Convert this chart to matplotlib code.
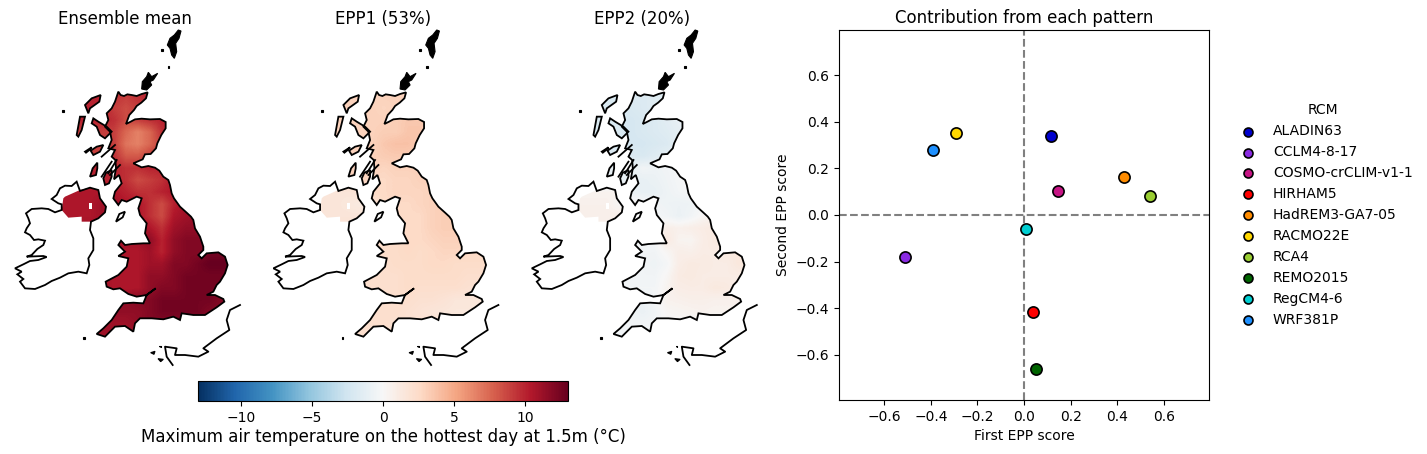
import matplotlib
matplotlib.use("Agg")
from matplotlib import pyplot as plt
from matplotlib.path import Path
from matplotlib.patches import PathPatch, Polygon
from matplotlib.colors import Normalize
from matplotlib.cm import ScalarMappable
import numpy as np

# coastlines in map units
great_britain = [(355,215),(362,225),(372,228),(382,223),(395,225),(410,228),(425,222),(443,217),(438,235),(424,248),
    (410,258),(402,270),(388,285),(378,312),(392,305),(405,298),(425,296),(450,298),(480,297),(497,306),(497,325),
    (484,345),(472,370),(468,385),(452,402),(435,403),(428,418),(400,430),(425,442),(445,438),(465,443),(478,452),
    (490,470),(505,480),(510,495),(515,520),(522,535),(540,560),(560,578),(573,590),(580,600),(585,625),(600,650),
    (610,680),(610,690),(595,705),(605,715),(620,700),(655,697),(675,710),(683,735),(675,760),(660,785),(650,795),
    (640,815),(620,825),(645,825),(670,837),(673,845),(650,862),(615,885),(580,885),(545,880),(540,900),(520,890),
    (490,898),(455,895),(420,895),(405,910),(400,935),(375,918),(345,920),(315,950),(290,942),(310,925),(335,900),
    (355,870),(370,850),(400,848),(430,850),(440,825),(467,805),(440,825),(410,830),(385,822),(360,805),(340,808),
    (320,800),(317,785),(355,765),(380,740),(385,715),(355,708),(375,695),(355,675),(363,662),(375,675),(395,672),
    (430,670),(450,670),(435,640),(440,610),(420,585),(415,565),(425,535),(410,530),(380,545),(365,540),(355,555),
    (340,535),(345,515),(365,490),(357,465),(342,478),(348,445),(346,420),(335,410),(345,390),(325,385),(335,360),
    (330,335),(315,320),(325,300),(320,280),(335,265),(345,245)]
ireland = [(230,485),(215,498),(195,497),(180,505),(170,525),(155,537),(175,550),(185,553),(185,570),(165,577),
    (145,567),(125,565),(95,567),(78,580),(85,595),(90,610),(80,625),(75,637),(90,645),(102,660),(115,658),(135,662),
    (130,675),(112,687),(95,705),(80,710),(130,708),(140,711),(115,720),(90,723),(70,733),(45,745),(65,755),(52,763),
    (70,777),(60,785),(75,805),(105,807),(135,795),(155,783),(180,773),(205,760),(235,755),(260,760),(268,735),
    (265,715),(280,690),(280,655),(270,630),(273,605),(295,595),(315,577),(318,560),(300,535),(295,510),(270,503),
    (240,513)]
kintyre = [(315,495),(310,475),(318,458),(335,450),(335,470),(327,490)]
jura = [(270,470),(278,445),(292,428),(292,445),(288,465)]
mull = [(290,380),(310,375),(300,395),(280,405),(272,392)]
tiree = [(255,395),(275,382),(268,390),(258,398)]
skye = [(280,295),(295,305),(320,320),(335,335),(315,355),(300,345),(290,320),(275,310)]
lewis = [(255,255),(275,235),(302,225),(298,245),(270,265),(265,280)]
uist = [(240,290),(255,290),(245,330),(235,350),(230,345)]
man = [(348,605),(358,582),(375,575),(368,592)]
orkney = [(445,157),(455,170),(473,160),(460,180),(450,185),(455,195),(440,210),(425,207),(427,185),(440,170)]
shetland = [(535,30),(543,33),(537,55),(527,70),(530,95),(523,115),(515,105),(510,85),(502,75),(510,55),(523,45)]
small_isles = [(187,270),(193,270),(193,276),(187,276)], [(483,88),(489,88),(489,93),(483,93)], \
    [(503,139),(508,139),(508,145),(503,145)], [(250,950),(255,950),(255,956),(250,956)], \
    [(452,998),(465,994),(462,1003)], [(474,1016),(490,1018),(482,1025)], [(477,977),(482,977),(482,981)]
sea_loch_a = [(345,375),(305,410)]
sea_loch_b = [(350,420),(325,460)]
sea_loch_c = [(360,435),(330,465)]
sea_loch_d = [(335,425),(305,470)]
france = [(720,855),(690,870),(680,900),(688,930),(650,955),(610,985),(625,995),(595,1010),(555,1005),(525,1005),
    (530,985),(495,980),(500,1010),(518,1035)]
# northern ireland is the only part of ireland with data
n_ireland = [(190,535),(195,530),(240,510),(270,503),(295,510),(300,535),(318,560),(315,577),(295,595),(273,605),
    (245,605),(245,590),(205,593),(185,570)]
lough_neagh = [(267,550),(276,550),(276,568),(267,568)]

grid_x = [198,234,270,306,342,378,414,450,486,522,558,594,630,666,702]
grid_y = [228,264,300,336,372,408,444,480,516,552,588,624,660,696,732,768,804,840,876,912,948]

ens_mean = [
    [10,10,10,10,9.5,9,9.5,10,10,10,10,10,10,10,10],
    [10,10,10,10,9,8.5,9,10,10,10,10,10,10,10,10],
    [10,10,10,10,9.5,8.5,9,9.5,10,10,10,10,10,10,10],
    [9,9,9,9,9,7.5,6.5,7.5,9.5,10,10,10,10,10,10],
    [9,9,9,9,9,7,6.5,7.5,9,10,10,10,10,10,10],
    [9,9,9,9,9.5,8,8,9,9.5,10,10,10,10,10,10],
    [10,10,10,10,10,9.5,9.5,10,10,10,10,10,10,10,10],
    [10,10,10,10,10,9.5,8.5,9,9.5,10.5,10.5,10.5,10.5,10.5,10.5],
    [10.5,10.5,10.5,10.5,10.5,10,9.5,9.5,10,10.5,10.5,10.5,10.5,10.5,10.5],
    [10.5,10.5,10.5,11,11,10.5,10.5,9.5,8.5,10,11,11,11,11,11],
    [10.5,10.5,10.5,11,11,11,10.5,9.5,8.5,10.5,11,11.5,11.5,11.5,11.5],
    [11,11,11,11,11,11,11,10.5,9.5,11,11.5,11.5,12,12,12],
    [11,11,11,11,11,11,11,11.5,10,11.5,12,12,12,12,12],
    [11,11,11,11,11,10.5,10.5,11,10,11.5,12,12,12.5,12.5,12.5],
    [11,11,11,11,11,10.5,10.5,11,11,12,12,12.5,13,13,13],
    [11,11,11,11,10.5,10.5,10.5,11.5,11.5,12,12.5,12.5,12.5,12.5,12.5],
    [11,11,11,11,10.5,10.5,10.5,11.5,12,12,12.5,12.5,12.5,12.5,12.5],
    [11,11,11,11,11.5,11.5,12,12,12.5,12.5,12.5,12.5,12.5,12,12],
    [11,11,11,11,11.5,11.5,11.5,12,12.5,12.5,12.5,12.5,12,12,12],
    [11,11,11,11,11,11,11.5,12,12,12,12,12,12,12,12],
    [11,11,11,11,11,11,11.5,12,12,12,12,12,12,12,12],
]
epp1 = [
    [3,3,3,3,2.8,3,3,3,3,3,3,3,3,3,3],
    [3,3,3,3,3,2.8,3,3,3,3,3,3,3,3,3],
    [3,3,3,3,3,3,3.2,3.5,3.5,3,3,3,3,3,3],
    [3,3,3,3,3,3.2,3.2,3.6,3.6,3,3,3,3,3,3],
    [3,3,3,3,3,3.5,3.8,3.8,3.3,3,3,3,3,3,3],
    [3,3,3,3,3,3.3,3.4,3.3,3,3,3,3,3,3,3],
    [3,3,3,3,3,2.8,3,3,3,3,3,3,3,3,3],
    [3,3,3,3,2.6,2.6,2.8,2.8,3,3,3,3,3,3,3],
    [1.6,1.6,1.6,1.8,2.6,2.6,2.8,2.8,2.8,3,3,3,3,3,3],
    [1.6,1.6,1.4,1.2,1.6,2.6,2.6,2.6,2.8,3,3.2,3,3,3,3],
    [1.6,1.6,1.6,1.6,1.6,2.6,2.6,2.6,2.6,3,3.2,3.2,3,3,3],
    [2,2,2,2,2,2.6,2.6,2.6,2.6,3,3.2,3.2,3,3,3],
    [2.4,2.4,2.4,2.4,2.4,2.4,2.4,2.6,2.6,2.8,3,3,3,3,3],
    [2.4,2.4,2.4,2.4,2.4,2.4,2.4,2.6,2.4,2.6,2.8,2.8,2.6,2.6,2.6],
    [2.4,2.4,2.4,2.4,2.4,2.2,2.4,2.4,2.4,2.6,2.6,2.4,2.4,2.4,2.4],
    [2.2,2.2,2.2,2.2,2.2,2.2,2.2,2.4,2.4,2.4,2.4,2.4,2.2,2.2,2.2],
    [2.2,2.2,2.2,2.2,2.2,2.2,2.2,2.4,2.2,2.2,2.2,2.2,2,2,2],
    [2.2,2.2,2.2,2.2,2.4,2.2,2.2,2.2,2,2,1.8,1.5,1.5,1.5,1.5],
    [2.2,2.2,2.2,2.2,2.2,2.2,2.2,2,1.8,1.6,1.5,1.4,1.4,1.4,1.4],
    [2.2,2.2,2.2,2.2,2.2,2.2,2,2,2,2,2,2,2,2,2],
    [2.2,2.2,2.2,2.2,2.2,2.2,2,2,2,2,2,2,2,2,2],
]
epp2 = [
    [-2,-2,-2,-2,-1.8,-1.8,-1.6,-1.6,-1.6,-1.6,-1.6,-1.6,-1.6,-1.6,-1.6],
    [-2,-2,-2,-2,-2,-1.8,-1.6,-1.6,-1.6,-1.6,-1.6,-1.6,-1.6,-1.6,-1.6],
    [-2,-2,-2,-2,-2.2,-2,-1.8,-1.4,-1,-1,-1,-1,-1,-1,-1],
    [-2,-2,-2,-2,-2.2,-2,-1.8,-1.6,-1.2,-1,-1,-1,-1,-1,-1],
    [-2,-2,-2,-2,-2.2,-2.2,-2,-1.8,-1.2,-1,-1,-1,-1,-1,-1],
    [-1.8,-1.8,-1.8,-1.8,-1.8,-2,-1.6,-1.2,-0.8,-0.8,-0.8,-0.8,-0.8,-0.8,-0.8],
    [-1,-1,-1,-1,-1,-0.4,-0.6,-0.4,-0.2,-0.2,-0.2,-0.2,-0.2,-0.2,-0.2],
    [-1,-1,-1,-1,-1,-1,-0.8,-0.5,-0.2,0.2,0.2,0.2,0.2,0.2,0.2],
    [0.4,0.4,0.4,0.5,-0.8,-1,-1,-0.6,-0.3,-0.1,0.1,0.1,0.1,0.1,0.1],
    [0.6,0.6,0.6,0.2,0.3,0,-0.4,-0.6,-0.7,-0.6,-0.2,-0.1,-0.1,-0.1,-0.1],
    [0.7,0.7,0.7,0.7,0.7,0,-0.2,-0.4,-0.8,-0.4,0.2,0.6,0.6,0.6,0.6],
    [0.6,0.6,0.6,0.6,0.6,0,0,0.8,0.6,0.8,1,1.2,1.2,1.2,1.2],
    [0,0,0,0,0,-0.2,-0.2,1.2,0.4,0.3,0.9,1.2,1.2,1.2,1.2],
    [-0.4,-0.4,-0.4,-0.4,-0.4,-0.4,-0.4,0.2,0.8,0.7,1,1,1.2,1.4,1.4],
    [-0.4,-0.4,-0.4,-0.4,-0.4,-0.4,-0.6,-0.2,0.9,1.2,1.1,1,1,1.4,1.4],
    [-0.4,-0.4,-0.4,-0.4,-0.4,-0.4,-0.4,0.2,1.1,1.2,1,1,1,1,1],
    [-0.4,-0.4,-0.4,-0.4,-0.3,-0.3,-0.3,0.4,0.9,1,1,1.3,1.2,0.8,0.8],
    [-0.6,-0.6,-0.6,-0.6,-0.6,-0.8,-0.2,0.5,0.6,0.7,0.7,0.6,0.6,0.6,0.6],
    [-0.6,-0.6,-0.6,-0.6,-0.5,-0.8,-0.4,0.2,0.3,0.4,0.5,0.4,0.4,0.4,0.4],
    [-0.4,-0.4,-0.4,-0.4,-0.4,-0.4,-0.3,0,0,0,0,0,0,0,0],
    [-0.4,-0.4,-0.4,-0.4,-0.4,-0.4,-0.3,0,0,0,0,0,0,0,0],
]

map_titles = ["Ensemble mean", "EPP1 (53%)", "EPP2 (20%)"]
map_fields = [ens_mean, epp1, epp2]

rcm_names = ["ALADIN63", "CCLM4-8-17", "COSMO-crCLIM-v1-1", "HIRHAM5", "HadREM3-GA7-05",
             "RACMO22E", "RCA4", "REMO2015", "RegCM4-6", "WRF381P"]
rcm_colors = ["mediumblue", "blueviolet", "mediumvioletred", "red", "darkorange",
              "gold", "yellowgreen", "darkgreen", "darkturquoise", "dodgerblue"]
epp1_score = [0.115, -0.51, 0.145, 0.04, 0.43, -0.29, 0.54, 0.05, 0.01, -0.39]
epp2_score = [0.34, -0.18, 0.103, -0.415, 0.163, 0.35, 0.08, -0.66, -0.06, 0.28]

W, H = 1427, 454
fig = plt.figure(figsize=(W / 100, H / 100), dpi=100)


def px_axes(x0, y0, x1, y1):
    # axes from pixel box, y measured from the top
    return fig.add_axes([x0 / W, 1 - y1 / H, (x1 - x0) / W, (y1 - y0) / H])


cmap = plt.get_cmap("RdBu_r")
norm = Normalize(-13, 13)
land = [great_britain, n_ireland, kintyre, jura, mull, skye, lewis, uist]
coast = [great_britain, ireland, kintyre, jura, mull, tiree, skye, lewis, uist, man]
solid = [orkney, shetland, *small_isles]
lochs = [sea_loch_a, sea_loch_b, sea_loch_c, sea_loch_d, france]

for k in range(3):
    shift = 258.4 * k
    ax = px_axes(shift, 20, 260 + shift, 370)
    ax.set_xlim(0, 780)
    ax.set_ylim(1050, 0)
    ax.axis("off")
    ax.set_title(map_titles[k], fontsize=12, x=0.481, y=0.99, pad=0)

    dx = grid_x[1] - grid_x[0]
    dy = grid_y[1] - grid_y[0]
    im = ax.imshow(np.array(map_fields[k]), cmap=cmap, norm=norm, interpolation="bilinear", aspect="auto",
                   extent=[grid_x[0] - dx / 2, grid_x[-1] + dx / 2, grid_y[-1] + dy / 2, grid_y[0] - dy / 2])
    ax.set_xlim(0, 780)
    ax.set_ylim(1050, 0)

    clip = Path.make_compound_path(*[Path(p + [p[0]]) for p in land])
    im.set_clip_path(PathPatch(clip, transform=ax.transData))
    ax.add_patch(Polygon(lough_neagh, closed=True, fc="white", ec="none", zorder=2))

    for p in coast:
        ax.add_patch(Polygon(p, closed=True, fill=False, ec="black", lw=1.3, zorder=3))
    for p in solid:
        ax.add_patch(Polygon(p, closed=True, fc="black", ec="black", lw=0.8, zorder=3))
    for p in lochs:
        ax.plot([c[0] for c in p], [c[1] for c in p], color="black", lw=1.3, zorder=3)

# colorbar
cax = px_axes(198, 381, 568, 401)
cb = fig.colorbar(ScalarMappable(norm=norm, cmap=cmap), cax=cax, orientation="horizontal")
cb.set_ticks([-10, -5, 0, 5, 10])
cb.set_label("Maximum air temperature on the hottest day at 1.5m (°C)", fontsize=12, labelpad=2)

# scatter panel
ax2 = px_axes(839, 30, 1209, 400)
ax2.axhline(0, color="grey", ls="--", lw=1.5, zorder=1)
ax2.axvline(0, color="grey", ls="--", lw=1.5, zorder=1)
for i in range(len(rcm_names)):
    ax2.scatter(epp1_score[i], epp2_score[i], s=65, color=rcm_colors[i], edgecolor="black",
                linewidth=1.2, label=rcm_names[i], zorder=3)
ax2.set_xlim(-0.794, 0.794)
ax2.set_ylim(-0.794, 0.794)
ax2.set_xticks([-0.6, -0.4, -0.2, 0.0, 0.2, 0.4, 0.6])
ax2.set_yticks([-0.6, -0.4, -0.2, 0.0, 0.2, 0.4, 0.6])
ax2.set_xlabel("First EPP score")
ax2.set_ylabel("Second EPP score")
ax2.set_title("Contribution from each pattern", fontsize=12, pad=5)
ax2.legend(title="RCM", frameon=False, loc="center left", bbox_to_anchor=(1.034, 0.5),
           handletextpad=0.8, markerscale=0.8)

fig.savefig("out.png", dpi=100)
